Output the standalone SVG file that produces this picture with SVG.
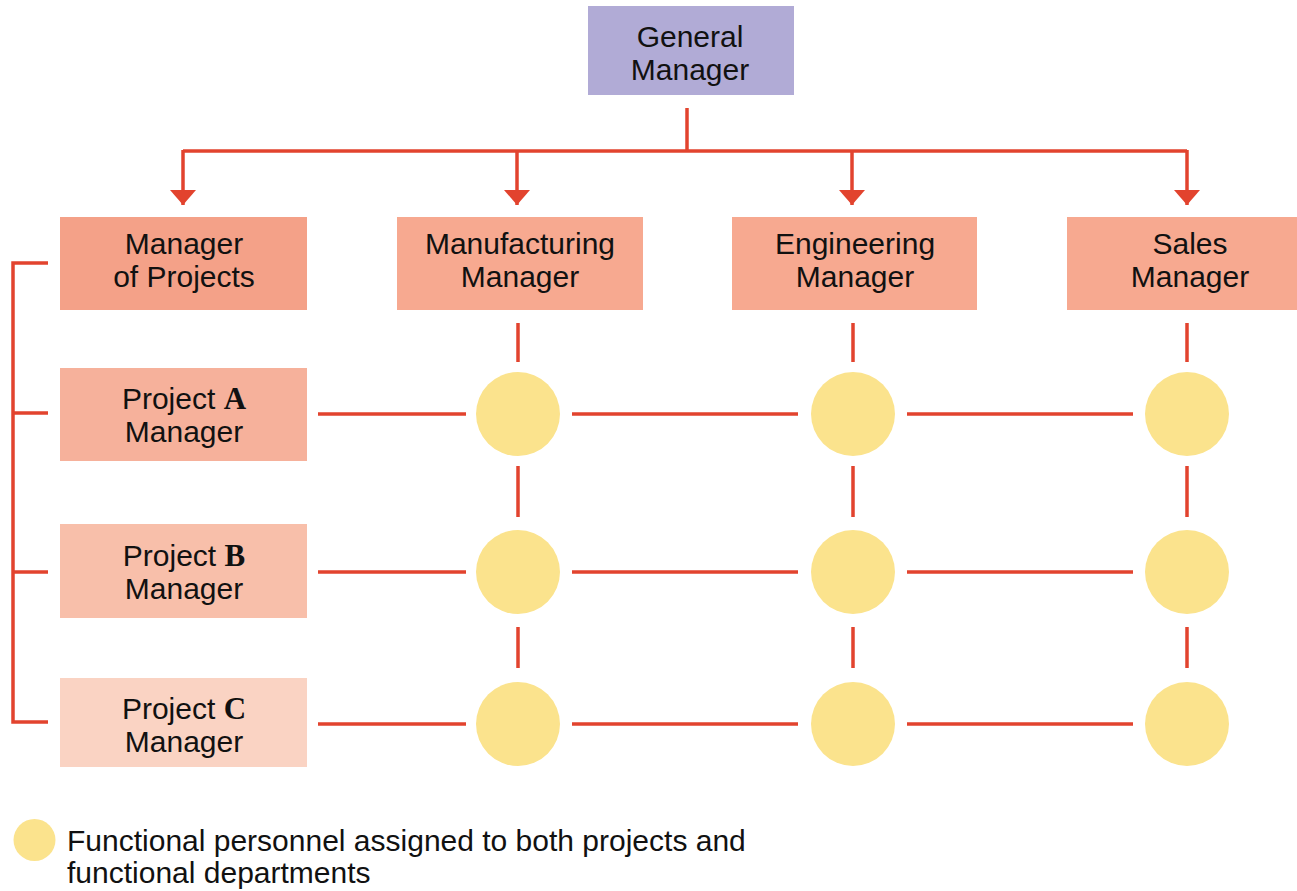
<svg xmlns="http://www.w3.org/2000/svg" width="1297" height="891" viewBox="0 0 1297 891">
  <style>
    .lbl { font-family: "Liberation Sans", Arial, sans-serif; font-size: 30px; fill: #111; text-anchor: middle; }
    .ltr { font-family: "Liberation Serif", "Times New Roman", serif; font-weight: bold; font-size: 31px; }
    .lnk { stroke: #e2432e; stroke-width: 3.5; fill: none; }
    .dot { fill: #fbe38d; }
    .legend { font-family: "Liberation Sans", Arial, sans-serif; font-size: 30px; fill: #111; }
  </style>
  <defs>
    <!-- downward arrowhead; drawn along +x so orient="auto" turns it with the line -->
    <marker id="arrow" viewBox="0 0 15 26" refX="15" refY="13" markerWidth="15" markerHeight="26" markerUnits="userSpaceOnUse" orient="auto">
      <path d="M0,0 L15,13 L0,26 Z" fill="#e2432e"/>
    </marker>
  </defs>
  <rect width="1297" height="891" fill="#ffffff"/>

  <!-- connectors -->
  <g id="connectors">
    <!-- general manager to functional managers -->
    <path class="lnk" d="M687,108 V151"/>
    <path class="lnk" d="M183,151 H1187"/>
    <line class="lnk" x1="183" y1="150" x2="183" y2="205" marker-end="url(#arrow)"/>
    <line class="lnk" x1="517" y1="150" x2="517" y2="205" marker-end="url(#arrow)"/>
    <line class="lnk" x1="852" y1="150" x2="852" y2="205" marker-end="url(#arrow)"/>
    <line class="lnk" x1="1187" y1="150" x2="1187" y2="205" marker-end="url(#arrow)"/>
    <!-- project bracket -->
    <path class="lnk" d="M48,263 H13 V722 H48"/>
    <path class="lnk" d="M13,413 H48 M13,572 H48"/>
    <!-- functional columns -->
    <path class="lnk" d="M518,323 V362 M518,466 V517 M518,627 V668"/>
    <path class="lnk" d="M853,323 V362 M853,466 V517 M853,627 V668"/>
    <path class="lnk" d="M1187,323 V362 M1187,466 V517 M1187,627 V668"/>
    <!-- project rows -->
    <path class="lnk" d="M318,414 H466 M572,414 H798 M907,414 H1133"/>
    <path class="lnk" d="M318,572 H466 M572,572 H798 M907,572 H1133"/>
    <path class="lnk" d="M318,724 H466 M572,724 H798 M907,724 H1133"/>
  </g>

  <g id="general-manager">
    <rect x="588" y="6" width="206" height="89" fill="#b1abd6"/>
    <text class="lbl" x="690" y="47">General</text>
    <text class="lbl" x="690" y="80">Manager</text>
  </g>

  <g id="manager-of-projects">
    <rect x="60" y="217" width="247" height="93" fill="#f4a188"/>
    <text class="lbl" x="184" y="254">Manager</text>
    <text class="lbl" x="184" y="287">of Projects</text>
  </g>

  <g id="manufacturing-manager">
    <rect x="397" y="217" width="246" height="93" fill="#f7a990"/>
    <text class="lbl" x="520" y="254">Manufacturing</text>
    <text class="lbl" x="520" y="287">Manager</text>
  </g>

  <g id="engineering-manager">
    <rect x="732" y="217" width="245" height="93" fill="#f7a990"/>
    <text class="lbl" x="855" y="254">Engineering</text>
    <text class="lbl" x="855" y="287">Manager</text>
  </g>

  <g id="sales-manager">
    <rect x="1067" y="217" width="230" height="93" fill="#f7a990"/>
    <text class="lbl" x="1190" y="254">Sales</text>
    <text class="lbl" x="1190" y="287">Manager</text>
  </g>

  <g id="project-a-manager">
    <rect x="60" y="368" width="247" height="93" fill="#f6b19b"/>
    <text class="lbl" x="184" y="409">Project <tspan class="ltr">A</tspan></text>
    <text class="lbl" x="184" y="442">Manager</text>
  </g>

  <g id="project-b-manager">
    <rect x="60" y="524" width="247" height="94" fill="#f8bfaa"/>
    <text class="lbl" x="184" y="566">Project <tspan class="ltr">B</tspan></text>
    <text class="lbl" x="184" y="599">Manager</text>
  </g>

  <g id="project-c-manager">
    <rect x="60" y="678" width="247" height="89" fill="#fad3c3"/>
    <text class="lbl" x="184" y="719">Project <tspan class="ltr">C</tspan></text>
    <text class="lbl" x="184" y="752">Manager</text>
  </g>

  <!-- functional personnel -->
  <g id="personnel">
    <circle class="dot" cx="518" cy="414" r="42"/>
    <circle class="dot" cx="853" cy="414" r="42"/>
    <circle class="dot" cx="1187" cy="414" r="42"/>
    <circle class="dot" cx="518" cy="572" r="42"/>
    <circle class="dot" cx="853" cy="572" r="42"/>
    <circle class="dot" cx="1187" cy="572" r="42"/>
    <circle class="dot" cx="518" cy="724" r="42"/>
    <circle class="dot" cx="853" cy="724" r="42"/>
    <circle class="dot" cx="1187" cy="724" r="42"/>
  </g>

  <g id="legend">
    <circle class="dot" cx="34.5" cy="840" r="21"/>
    <text class="legend" x="67" y="851">Functional personnel assigned to both projects and</text>
    <text class="legend" x="67" y="883">functional departments</text>
  </g>
</svg>
